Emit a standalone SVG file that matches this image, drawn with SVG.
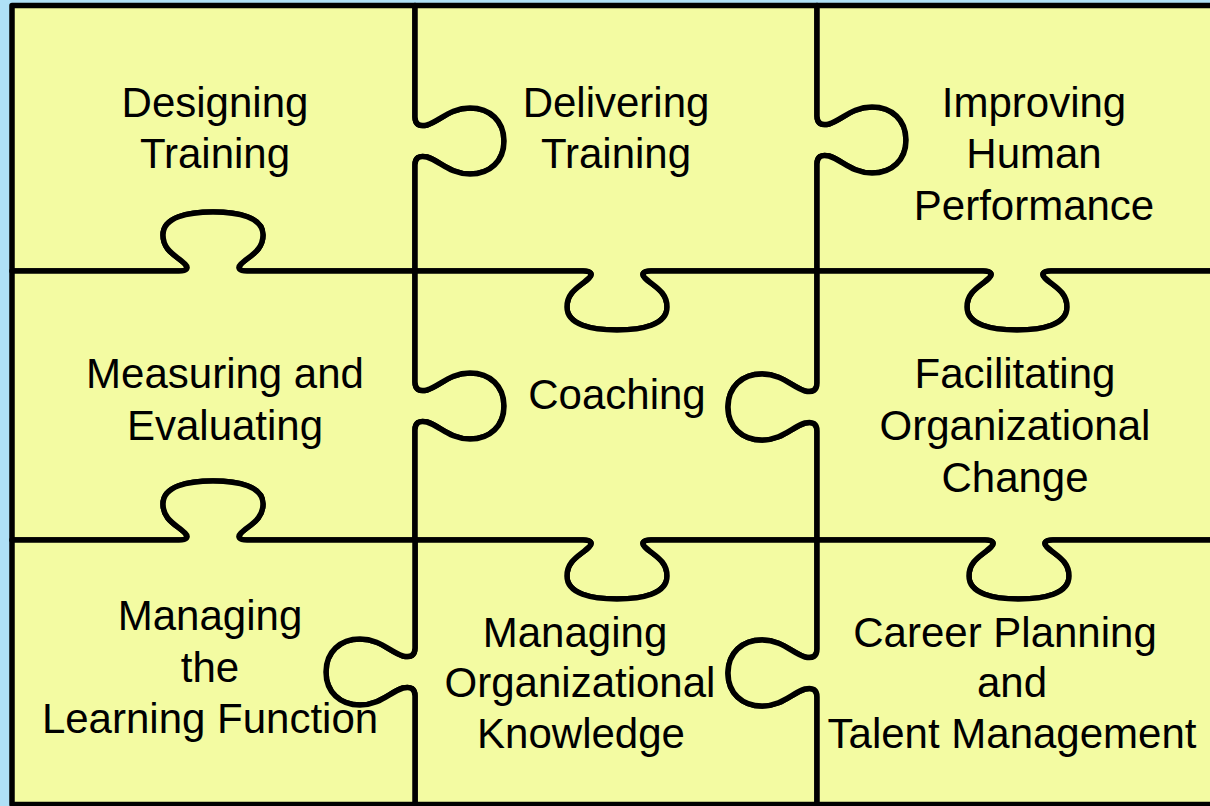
<svg xmlns="http://www.w3.org/2000/svg" width="1210" height="806" viewBox="0 0 1210 806">
<style>
.pc{fill:#f3fba2;stroke:#000;stroke-width:5.5;stroke-linejoin:round;stroke-linecap:round}
.t{font-family:"Liberation Sans",Arial,sans-serif;font-size:42px;fill:#000;text-anchor:middle}
</style>
<rect x="0" y="0" width="1210" height="806" fill="#afe0f6"/>
<g id="piece-designing">
<path class="pc" d="M12,5.5 L415,5.5 L415,117 C415,124 419,127 427,125 C440,121 450,108 470,108 C490,108 504,121 504,141 C504,161 490,174 470,174 C450,174 440,161 427,157 C419,155 415,158 415,165 L415,271 L247,271 C239,271 237,268 241,264 C249,256 263,251 263,235 C263,217 238,212 213,212 C188,212 163,217 163,235 C163,251 177,256 185,264 C189,268 187,271 179,271 L12,271 Z"/>
<text class="t" x="215" y="117">Designing</text>
<text class="t" x="215" y="168">Training</text>
</g>
<g id="piece-delivering">
<path class="pc" d="M415,5.5 L817,5.5 L817,116 C817,123 821,126 829,124 C842,120 852,107 872,107 C892,107 906,120 906,140 C906,160 892,173 872,173 C852,173 842,160 829,156 C821,154 817,157 817,164 L817,271 L651,271 C643,271 641,274 645,278 C653,286 667,291 667,307 C667,325 642,330 617,330 C592,330 567,325 567,307 C567,291 581,286 589,278 C593,274 591,271 583,271 L415,271 L415,165 C415,158 419,155 427,157 C440,161 450,174 470,174 C490,174 504,161 504,141 C504,121 490,108 470,108 C450,108 440,121 427,125 C419,127 415,124 415,117 Z"/>
<text class="t" x="616" y="117">Delivering</text>
<text class="t" x="616" y="168">Training</text>
</g>
<g id="piece-improving">
<path class="pc" d="M817,5.5 L1216,5.5 L1216,271 L1051,271 C1043,271 1041,274 1045,278 C1053,286 1067,291 1067,307 C1067,325 1042,330 1017,330 C992,330 967,325 967,307 C967,291 981,286 989,278 C993,274 991,271 983,271 L817,271 L817,164 C817,157 821,154 829,156 C842,160 852,173 872,173 C892,173 906,160 906,140 C906,120 892,107 872,107 C852,107 842,120 829,124 C821,126 817,123 817,116 Z"/>
<text class="t" x="1034" y="117">Improving</text>
<text class="t" x="1034" y="168">Human</text>
<text class="t" x="1034" y="220">Performance</text>
</g>
<g id="piece-measuring">
<path class="pc" d="M12,271 L179,271 C187,271 189,268 185,264 C177,256 163,251 163,235 C163,217 188,212 213,212 C238,212 263,217 263,235 C263,251 249,256 241,264 C237,268 239,271 247,271 L415,271 L415,382 C415,389 419,392 427,390 C440,386 450,373 470,373 C490,373 504,386 504,406 C504,426 490,439 470,439 C450,439 440,426 427,422 C419,420 415,423 415,430 L415,540 L247,540 C239,540 237,537 241,533 C249,525 263,520 263,504 C263,486 238,481 213,481 C188,481 163,486 163,504 C163,520 177,525 185,533 C189,537 187,540 179,540 L12,540 Z"/>
<text class="t" x="225" y="388">Measuring and</text>
<text class="t" x="225" y="440">Evaluating</text>
</g>
<g id="piece-coaching">
<path class="pc" d="M415,271 L583,271 C591,271 593,274 589,278 C581,286 567,291 567,307 C567,325 592,330 617,330 C642,330 667,325 667,307 C667,291 653,286 645,278 C641,274 643,271 651,271 L817,271 L817,383 C817,390 813,393 805,391 C792,387 782,374 762,374 C742,374 728,387 728,407 C728,427 742,440 762,440 C782,440 792,427 805,423 C813,421 817,424 817,431 L817,540 L651,540 C643,540 641,543 645,547 C653,555 667,560 667,576 C667,594 642,599 617,599 C592,599 567,594 567,576 C567,560 581,555 589,547 C593,543 591,540 583,540 L415,540 L415,430 C415,423 419,420 427,422 C440,426 450,439 470,439 C490,439 504,426 504,406 C504,386 490,373 470,373 C450,373 440,386 427,390 C419,392 415,389 415,382 Z"/>
<text class="t" x="617" y="409">Coaching</text>
</g>
<g id="piece-facilitating">
<path class="pc" d="M817,271 L983,271 C991,271 993,274 989,278 C981,286 967,291 967,307 C967,325 992,330 1017,330 C1042,330 1067,325 1067,307 C1067,291 1053,286 1045,278 C1041,274 1043,271 1051,271 L1216,271 L1216,540 L1053,540 C1045,540 1043,543 1047,547 C1055,555 1069,560 1069,576 C1069,594 1044,599 1019,599 C994,599 969,594 969,576 C969,560 983,555 991,547 C995,543 993,540 985,540 L817,540 L817,431 C817,424 813,421 805,423 C792,427 782,440 762,440 C742,440 728,427 728,407 C728,387 742,374 762,374 C782,374 792,387 805,391 C813,393 817,390 817,383 Z"/>
<text class="t" x="1015" y="388">Facilitating</text>
<text class="t" x="1015" y="440">Organizational</text>
<text class="t" x="1015" y="492">Change</text>
</g>
<g id="piece-knowledge">
<path class="pc" d="M415,540 L583,540 C591,540 593,543 589,547 C581,555 567,560 567,576 C567,594 592,599 617,599 C642,599 667,594 667,576 C667,560 653,555 645,547 C641,543 643,540 651,540 L817,540 L817,649 C817,656 813,659 805,657 C792,653 782,640 762,640 C742,640 728,653 728,673 C728,693 742,706 762,706 C782,706 792,693 805,689 C813,687 817,690 817,697 L817,804.5 L415,804.5 L415,696 C415,689 411,686 403,688 C390,692 380,705 360,705 C340,705 326,692 326,672 C326,652 340,639 360,639 C380,639 390,652 403,656 C411,658 415,655 415,648 Z"/>
<text class="t" x="575" y="647">Managing</text>
<text class="t" x="580" y="697">Organizational</text>
<text class="t" x="581" y="748">Knowledge</text>
</g>
<g id="piece-career">
<path class="pc" d="M817,540 L985,540 C993,540 995,543 991,547 C983,555 969,560 969,576 C969,594 994,599 1019,599 C1044,599 1069,594 1069,576 C1069,560 1055,555 1047,547 C1043,543 1045,540 1053,540 L1216,540 L1216,804.5 L817,804.5 L817,697 C817,690 813,687 805,689 C792,693 782,706 762,706 C742,706 728,693 728,673 C728,653 742,640 762,640 C782,640 792,653 805,657 C813,659 817,656 817,649 Z"/>
<text class="t" x="1005" y="647">Career Planning</text>
<text class="t" x="1012" y="697">and</text>
<text class="t" x="1012" y="748">Talent Management</text>
</g>
<g id="piece-learning">
<path class="pc" d="M12,540 L179,540 C187,540 189,537 185,533 C177,525 163,520 163,504 C163,486 188,481 213,481 C238,481 263,486 263,504 C263,520 249,525 241,533 C237,537 239,540 247,540 L415,540 L415,648 C415,655 411,658 403,656 C390,652 380,639 360,639 C340,639 326,652 326,672 C326,692 340,705 360,705 C380,705 390,692 403,688 C411,686 415,689 415,696 L415,804.5 L12,804.5 Z"/>
<text class="t" x="210" y="630">Managing</text>
<text class="t" x="210" y="682">the</text>
<text class="t" x="210" y="733">Learning Function</text>
</g>
<g id="connectors"/>
</svg>
